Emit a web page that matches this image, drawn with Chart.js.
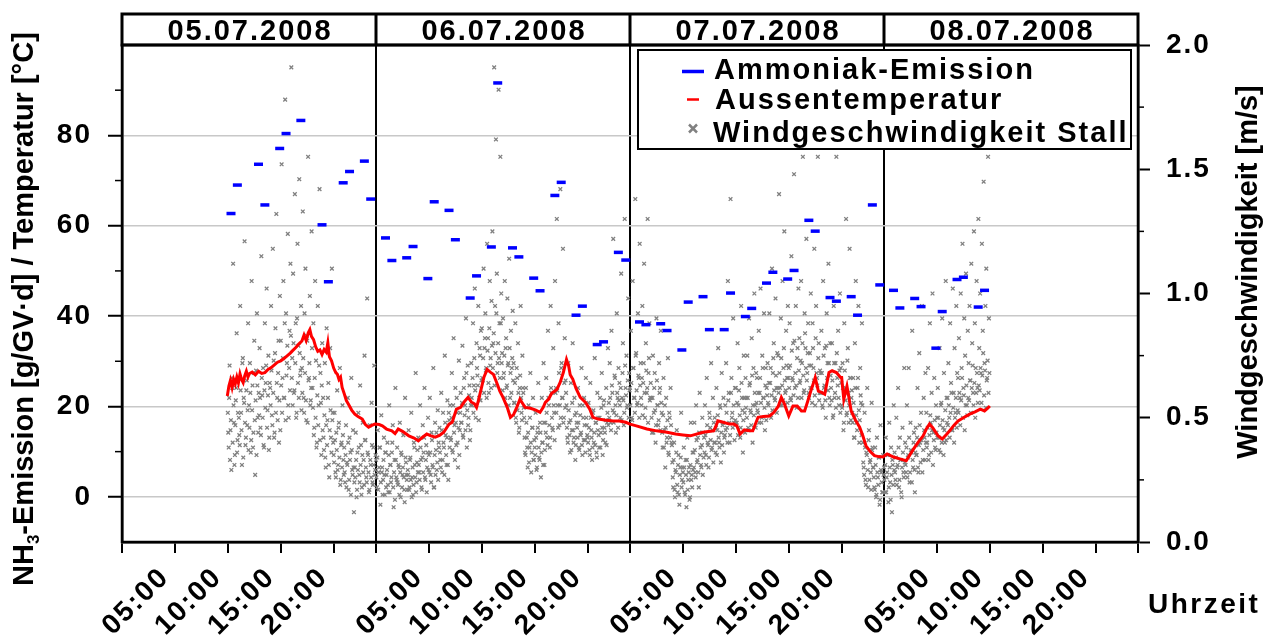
<!DOCTYPE html>
<html><head><meta charset="utf-8">
<script src="https://cdn.jsdelivr.net/npm/chart.js@4.4.1/dist/chart.umd.min.js"></script>
<style>html,body{margin:0;padding:0;background:#fff;}#wrap{width:1274px;height:639px;}</style>
</head><body><div id="wrap"><canvas id="c" width="1274" height="639"></canvas></div>
<script>
// ---------- DATA ----------
const dayLabels = ['05.07.2008','06.07.2008','07.07.2008','08.07.2008'];
const xTickHours = [0,5,10,15,20,24,29,34,39,44,48,53,58,63,68,72,77,82,87,92,96];
const leftTicks = [0,20,40,60,80];
const rightTicks = [0,0.5,1,1.5,2];

// Ammoniak-Emission [g/GV·d] (hours since 05.07.2008 00:00)
const nh3Hours = [10.3,10.9,12.9,13.5,14.9,15.5,16.9,18.9,19.5,20.9,21.5,22.9,23.5,
  24.9,25.5,26.9,27.5,28.9,29.5,30.9,31.5,32.9,33.5,34.9,35.5,36.9,37.5,38.9,39.5,40.9,41.5,42.9,43.5,44.9,45.5,46.9,47.6,
  48.9,49.5,50.9,51.5,52.9,53.5,54.9,55.5,56.9,57.5,58.9,59.5,60.9,61.5,62.9,63.5,64.9,65.5,66.9,67.5,68.9,69.5,70.9,71.6,
  72.9,73.5,74.9,75.5,76.9,77.5,78.9,79.5,80.9,81.5];
const nh3Values = [62.7,69.0,73.6,64.6,77.1,80.4,83.3,60.2,47.6,69.5,72.0,74.3,65.9,
  57.3,52.3,52.9,55.4,48.3,65.3,63.4,56.9,44.0,48.9,55.3,91.6,55.1,53.1,48.4,45.6,66.7,69.6,40.2,42.2,33.7,34.3,54.1,52.4,
  38.7,38.1,38.3,36.8,32.5,43.1,44.3,37.0,37.0,45.1,39.9,41.7,47.3,49.7,48.2,50.1,61.2,58.8,44.1,43.3,44.3,40.2,64.6,46.9,
  45.7,41.8,43.9,42.1,32.9,41.0,48.1,48.6,42.0,45.7];

// Aussentemperatur [°C]
const tempHours = [9.95,10.1,10.25,10.4,10.55,10.7,10.85,11.0,11.15,11.3,11.45,11.6,11.75,11.9,12.05,12.3,12.6,12.9,13.2,13.5,13.8,14.1,14.4,14.7,15.0,15.3,15.6,15.9,16.1,16.4,16.7,17.0,17.2,17.4,17.6,17.75,17.9,18.1,18.3,18.5,18.7,18.9,19.1,19.3,19.45,19.6,19.8,20.0,20.2,20.35,20.5,20.65,20.8,21.0,21.2,21.4,21.7,22.0,22.3,22.7,23.0,23.3,23.6,23.9,
  24.3,24.6,25.0,25.5,25.8,26.1,26.5,27.1,27.6,28.0,28.4,28.8,29.2,29.6,30.0,30.4,30.9,31.2,31.6,32.0,32.4,32.7,33.0,33.3,33.5,33.7,34.0,34.2,34.5,34.8,35.1,35.4,35.7,36.0,36.4,36.7,37.0,37.3,37.6,37.9,38.1,38.6,39.1,39.5,39.8,40.0,40.3,40.6,40.9,41.1,41.4,41.7,42.0,42.2,42.35,42.6,42.9,43.3,43.8,44.2,44.5,45.0,45.6,46.4,47.0,47.6,
  48.0,48.6,49.6,50.5,51.5,52.3,53.0,53.7,54.9,55.9,56.1,56.3,56.8,57.4,57.8,58.1,58.4,58.8,59.3,59.6,60.1,60.6,61.2,61.6,62.0,62.3,62.6,63.0,63.4,63.8,64.2,64.5,64.8,65.1,65.5,65.8,66.1,66.4,66.8,67.1,67.5,67.9,68.0,68.2,68.5,68.9,69.3,69.7,70.0,70.3,70.7,71.1,71.5,71.9,
  72.3,72.9,73.5,74.1,74.5,74.8,75.2,75.7,76.0,76.3,76.6,76.8,77.1,77.5,77.9,78.2,78.6,79.0,79.5,80.1,80.6,81.1,81.5,81.8,82.0];
const tempValues = [22.3,24.5,25.8,24.2,26.0,25.0,26.5,25.2,27.2,26.0,25.3,26.8,27.8,26.5,27.3,27.6,27.0,27.8,27.3,27.5,28.2,28.6,29.2,29.8,30.1,30.6,31.2,31.8,32.3,33.0,33.8,34.5,35.8,34.6,36.3,37.0,35.5,34.8,33.2,32.2,32.5,31.5,32.6,32.0,34.1,31.0,30.1,28.5,27.5,27.1,26.0,26.5,24.2,22.8,21.3,20.5,19.2,18.3,17.8,17.2,16.0,15.4,15.8,16.1,
  16.0,15.7,15.0,14.6,14.0,15.0,14.5,13.5,13.0,12.4,13.2,13.9,13.5,13.2,13.6,14.3,16.1,16.5,19.4,19.8,21.2,22.0,21.0,20.6,19.8,21.5,24.5,26.5,28.2,27.6,27.1,25.3,23.4,22.0,19.8,17.6,18.2,19.8,21.6,20.5,19.8,19.6,19.2,18.7,19.8,20.9,21.6,22.9,23.4,23.8,25.3,27.5,30.4,29.0,27.0,26.0,24.0,22.0,20.9,19.4,17.6,17.2,17.0,16.8,16.8,16.5,
  16.1,15.7,15.0,14.6,14.3,13.9,13.7,13.5,14.3,14.6,15.5,16.8,16.5,16.1,16.1,15.7,13.9,14.8,14.6,14.6,17.6,17.8,17.9,18.7,20.0,22.0,20.5,17.9,20.1,20.1,19.0,19.0,21.2,23.5,26.4,23.4,23.1,22.7,27.5,27.9,27.5,26.4,26.4,21.6,24.5,19.0,17.0,15.4,13.5,11.3,10.0,9.1,8.9,8.8,
  9.5,8.8,8.4,8.0,9.5,10.6,12.0,13.5,15.0,16.1,15.3,14.6,13.5,12.8,13.8,14.6,15.8,16.8,17.5,18.3,18.8,19.4,19.0,19.6,20.1];

// Windgeschwindigkeit Stall [m/s]; two interleaved series, each one reading every 5 minutes
const windStartHours = [10,24,48,72];
const windStepHours = 1/12;
const windDay1 = [
 0.52,0.38,0.71,0.45,0.29,0.62,1.12,0.48,0.35,0.57,0.84,0.41,
 0.66,0.43,0.95,0.52,0.31,0.74,0.58,1.21,0.39,0.61,0.47,0.88,
 0.55,0.72,0.36,1.05,0.63,0.44,0.81,0.27,0.69,0.92,0.50,0.60,
 0.78,0.46,1.15,0.59,0.70,0.38,0.88,0.64,1.02,0.53,0.75,0.42,
 0.62,0.95,0.51,1.18,0.73,0.44,0.86,1.32,0.58,0.68,0.40,0.99,
 0.81,1.52,0.66,1.05,0.58,1.78,0.92,0.72,1.24,0.50,0.85,1.12,
 1.91,0.74,1.08,0.60,1.40,0.88,0.52,1.20,0.79,1.46,0.67,0.95,
 0.70,1.33,0.58,0.92,1.10,0.49,0.81,1.55,0.66,0.99,0.57,1.25,
 0.62,0.88,0.46,1.05,0.73,0.40,0.95,0.55,1.42,0.68,0.35,0.80,
 0.58,0.37,0.72,0.30,0.86,0.49,0.64,0.26,0.78,0.42,1.10,0.52,
 0.35,0.52,0.28,0.44,0.61,0.31,0.48,0.70,0.25,0.40,0.55,0.33,
 0.38,0.24,0.47,0.32,0.58,0.21,0.42,0.36,0.66,0.29,0.45,0.12,
 0.30,0.44,0.18,0.36,0.52,0.27,0.63,0.39,0.22,0.48,0.33,0.75,
 0.41,0.26,0.98,0.35,0.20,0.47,0.31,0.56,0.24,0.38,0.71,0.29];
const windDay1b = [
 0.44,0.58,0.33,0.49,0.66,0.40,0.55,0.31,0.47,0.62,0.36,0.52,
 0.50,0.39,0.61,0.45,0.72,0.34,0.56,0.48,0.42,0.65,0.53,0.37,
 0.46,0.60,0.41,0.53,0.38,0.68,0.49,0.57,0.35,0.63,0.44,0.51,
 0.58,0.43,0.66,0.50,0.39,0.61,0.54,0.71,0.46,0.59,0.37,0.64,
 0.55,0.69,0.47,0.60,0.42,0.76,0.52,0.64,0.49,0.81,0.57,0.45,
 0.63,0.52,0.74,0.58,0.88,0.49,0.67,0.79,0.55,0.70,0.61,0.83,
 0.66,0.55,0.80,0.61,0.72,0.50,0.90,0.64,0.58,0.76,0.69,0.53,
 0.60,0.74,0.52,0.68,0.57,0.83,0.48,0.65,0.72,0.55,0.62,0.78,
 0.54,0.43,0.66,0.50,0.38,0.59,0.47,0.71,0.41,0.56,0.63,0.45,
 0.42,0.51,0.34,0.47,0.39,0.58,0.31,0.45,0.53,0.36,0.49,0.40,
 0.32,0.41,0.26,0.37,0.29,0.46,0.34,0.23,0.39,0.30,0.43,0.27,
 0.28,0.35,0.22,0.31,0.40,0.25,0.33,0.19,0.37,0.27,0.30,0.24,
 0.26,0.33,0.21,0.29,0.38,0.24,0.31,0.19,0.35,0.28,0.23,0.41,
 0.30,0.24,0.36,0.28,0.21,0.33,0.26,0.39,0.23,0.31,0.27,0.35];
const windDay2 = [
 0.33,0.22,0.45,0.28,0.38,0.15,0.51,0.30,0.25,0.42,0.19,0.36,
 0.27,0.40,0.20,0.55,0.31,0.24,0.36,0.47,0.14,0.33,0.62,0.26,
 0.38,0.23,0.30,0.48,0.18,0.35,0.27,0.43,0.21,0.58,0.32,0.25,
 0.29,0.45,0.22,0.34,0.52,0.26,0.19,0.40,0.31,0.68,0.24,0.37,
 0.42,0.28,0.55,0.33,0.21,0.47,0.36,0.62,0.25,0.39,0.30,0.50,
 0.35,0.58,0.27,0.44,0.31,0.70,0.22,0.48,0.37,0.29,0.53,0.40,
 0.46,0.33,0.60,0.28,0.52,0.38,0.75,0.43,0.31,0.57,0.25,0.49,
 0.55,0.41,0.68,0.36,0.82,0.47,0.62,0.39,0.52,0.30,0.73,0.45,
 0.60,0.48,0.79,0.42,0.66,0.55,0.90,0.38,0.71,0.50,0.63,0.45,
 0.72,0.55,0.88,0.63,1.02,0.50,0.80,0.67,0.95,0.58,0.75,0.85,
 0.86,0.65,1.10,0.78,0.92,0.70,1.20,0.82,0.60,1.05,0.74,0.97,
 1.25,0.80,1.91,0.95,1.62,1.08,0.72,1.82,0.88,1.55,1.00,0.76,
 0.90,0.68,1.05,0.78,0.62,0.98,0.72,1.14,0.58,0.85,0.70,0.93,
 0.72,0.56,0.88,0.48,0.66,0.80,0.44,0.62,0.95,0.52,0.75,0.60,
 0.50,0.36,0.62,0.42,0.30,0.55,0.38,0.68,0.28,0.46,0.58,0.33,
 0.38,0.52,0.29,0.44,0.64,0.34,0.48,0.26,0.58,0.40,0.72,0.31,
 0.48,0.66,0.42,0.85,0.55,0.38,0.95,0.60,0.46,0.78,0.52,1.05,
 0.62,1.30,0.55,0.88,0.47,1.42,0.70,0.58,1.18,0.50,0.82,0.65,
 0.55,0.42,0.72,0.48,0.36,0.64,0.45,0.80,0.40,0.58,0.33,0.52,
 0.46,0.62,0.38,0.55,0.43,0.70,0.35,0.50,0.58,0.41,0.66,0.47,
 0.42,0.56,0.37,0.64,0.45,0.33,0.52,0.40,0.74,0.48,0.36,0.60,
 0.50,0.38,0.58,0.44,0.68,0.35,0.55,0.46,0.40,0.62,0.48,0.78,
 0.56,0.72,0.48,0.85,0.60,1.22,0.52,0.66,0.44,0.92,0.58,0.70,
 0.64,0.50,1.08,0.58,0.80,0.47,1.30,0.62,0.75,0.55,0.98,0.68];
const windDay2b = [
 0.26,0.34,0.21,0.30,0.38,0.24,0.28,0.19,0.33,0.27,0.36,0.22,
 0.29,0.23,0.35,0.20,0.31,0.26,0.40,0.22,0.28,0.17,0.33,0.25,
 0.24,0.31,0.19,0.28,0.36,0.22,0.30,0.26,0.16,0.34,0.27,0.21,
 0.27,0.21,0.33,0.25,0.18,0.30,0.23,0.38,0.26,0.20,0.32,0.28,
 0.31,0.25,0.38,0.22,0.34,0.28,0.42,0.26,0.33,0.20,0.36,0.29,
 0.28,0.36,0.24,0.41,0.30,0.22,0.35,0.27,0.44,0.32,0.25,0.38,
 0.36,0.30,0.45,0.33,0.40,0.27,0.48,0.35,0.42,0.31,0.52,0.38,
 0.42,0.50,0.37,0.55,0.44,0.33,0.48,0.58,0.40,0.46,0.35,0.52,
 0.48,0.56,0.43,0.62,0.51,0.45,0.68,0.53,0.47,0.59,0.41,0.55,
 0.58,0.66,0.52,0.74,0.61,0.55,0.70,0.63,0.49,0.78,0.57,0.65,
 0.66,0.74,0.60,0.82,0.69,0.58,0.77,0.64,0.86,0.71,0.62,0.79,
 0.70,0.84,0.63,0.76,0.92,0.68,0.80,0.74,0.66,0.88,0.72,0.61,
 0.66,0.75,0.58,0.82,0.63,0.71,0.55,0.78,0.68,0.60,0.74,0.65,
 0.56,0.64,0.50,0.70,0.53,0.60,0.46,0.67,0.58,0.49,0.62,0.54,
 0.42,0.35,0.48,0.38,0.44,0.32,0.50,0.40,0.36,0.46,0.33,0.41,
 0.35,0.42,0.30,0.46,0.38,0.33,0.44,0.36,0.40,0.31,0.48,0.37,
 0.44,0.52,0.39,0.58,0.47,0.42,0.62,0.50,0.45,0.55,0.41,0.60,
 0.52,0.61,0.46,0.68,0.55,0.50,0.72,0.58,0.48,0.64,0.54,0.60,
 0.46,0.40,0.53,0.43,0.49,0.37,0.56,0.45,0.42,0.51,0.39,0.48,
 0.42,0.48,0.37,0.51,0.44,0.39,0.55,0.41,0.47,0.36,0.50,0.43,
 0.40,0.46,0.35,0.50,0.42,0.38,0.53,0.44,0.39,0.48,0.34,0.45,
 0.43,0.50,0.38,0.54,0.46,0.41,0.57,0.44,0.49,0.39,0.52,0.47,
 0.50,0.58,0.45,0.63,0.53,0.48,0.67,0.55,0.51,0.60,0.46,0.57,
 0.55,0.62,0.49,0.68,0.57,0.52,0.71,0.59,0.54,0.65,0.50,0.61];
const windDay3 = [
 0.62,0.85,0.50,1.05,0.70,0.58,1.38,0.76,0.55,0.92,0.66,1.20,
 0.72,0.55,0.95,0.64,1.12,0.50,0.80,0.60,1.30,0.68,0.88,0.58,
 0.58,0.44,0.75,0.52,0.68,0.40,0.90,0.55,0.47,0.72,0.62,0.85,
 0.52,0.38,0.66,0.45,0.30,0.58,0.42,0.74,0.35,0.50,0.62,0.40,
 0.32,0.22,0.40,0.18,0.28,0.45,0.20,0.35,0.15,0.30,0.52,0.25,
 0.28,0.38,0.20,0.33,0.14,0.42,0.25,0.30,0.18,0.48,0.27,0.36,
 0.36,0.48,0.28,0.55,0.32,0.42,0.22,0.60,0.38,0.30,0.50,0.44,
 0.42,0.55,0.35,0.66,0.40,0.30,0.52,0.46,0.72,0.38,0.58,0.48,
 0.50,0.36,0.62,0.45,0.78,0.40,0.55,0.32,0.68,0.47,0.58,0.42,
 0.55,0.72,0.46,1.05,0.60,0.40,1.38,0.66,0.52,0.90,0.48,0.62,
 0.62,0.48,0.80,0.55,0.70,0.42,0.95,0.58,0.36,0.75,0.52,0.66,
 0.58,0.75,0.46,0.90,0.64,0.52,0.82,0.40,0.70,1.00,0.55,0.68,
 0.66,0.52,0.85,0.60,1.02,0.48,0.75,0.58,0.92,0.45,0.70,0.62,
 0.72,0.55,0.92,0.64,0.50,1.10,0.68,0.80,0.58,0.98,0.62,0.76,
 0.75,1.40,0.62,0.90,0.55,1.05,0.70,1.25,0.60,0.85,0.66,0.95,
 0.70,0.88,0.58,1.15,0.66,0.80,1.48,0.62,0.95,0.54,0.78,1.02,
 0.82,0.65,1.05,0.72,1.55,0.60,0.92,0.78,1.22,0.68,0.88,0.58,
 0.76,1.00,0.62,0.88,0.70,1.18,0.55,0.95,0.66,1.55,0.80,0.60,
 0.68,0.85,0.55,1.05,0.62,0.78,0.50,0.92,0.72,1.12,0.58,0.80,
 0.62,0.80,0.50,0.95,0.58,0.72,1.55,0.66,0.85,0.55,1.00,0.70,
 0.55,0.72,0.45,0.88,0.62,1.30,0.52,0.78,0.48,1.18,0.66,0.58,
 0.52,0.66,0.42,0.80,1.05,0.48,0.62,0.95,0.40,0.70,0.56,0.88,
 0.40,0.30,0.52,0.25,0.36,0.62,0.22,0.45,0.32,0.28,0.56,0.38,
 0.30,0.22,0.38,0.18,0.42,0.26,0.34,0.15,0.47,0.28,0.20,0.35];
const windDay3b = [
 0.55,0.64,0.49,0.70,0.58,0.52,0.75,0.61,0.56,0.67,0.50,0.63,
 0.58,0.66,0.51,0.72,0.60,0.54,0.69,0.62,0.48,0.74,0.57,0.64,
 0.50,0.58,0.44,0.62,0.53,0.47,0.65,0.55,0.49,0.60,0.45,0.56,
 0.44,0.51,0.38,0.55,0.46,0.40,0.49,0.36,0.52,0.42,0.47,0.39,
 0.26,0.33,0.21,0.29,0.36,0.23,0.31,0.19,0.27,0.34,0.22,0.30,
 0.24,0.30,0.19,0.27,0.33,0.21,0.28,0.17,0.31,0.25,0.22,0.29,
 0.30,0.37,0.26,0.41,0.33,0.28,0.44,0.35,0.31,0.39,0.27,0.34,
 0.36,0.43,0.31,0.47,0.39,0.34,0.50,0.41,0.37,0.45,0.32,0.40,
 0.40,0.46,0.35,0.51,0.42,0.38,0.54,0.44,0.39,0.48,0.36,0.43,
 0.45,0.52,0.40,0.57,0.48,0.43,0.60,0.50,0.46,0.55,0.41,0.49,
 0.48,0.56,0.43,0.61,0.51,0.46,0.64,0.53,0.49,0.58,0.44,0.54,
 0.50,0.58,0.45,0.63,0.53,0.47,0.67,0.55,0.51,0.60,0.46,0.56,
 0.53,0.60,0.48,0.66,0.56,0.50,0.70,0.58,0.54,0.63,0.49,0.59,
 0.56,0.64,0.51,0.70,0.59,0.53,0.74,0.61,0.57,0.67,0.52,0.62,
 0.60,0.68,0.55,0.74,0.63,0.57,0.78,0.65,0.61,0.71,0.56,0.66,
 0.62,0.71,0.57,0.77,0.65,0.59,0.81,0.68,0.63,0.74,0.58,0.69,
 0.64,0.73,0.58,0.80,0.67,0.61,0.84,0.70,0.65,0.76,0.60,0.71,
 0.62,0.71,0.56,0.78,0.65,0.59,0.82,0.68,0.63,0.74,0.57,0.69,
 0.60,0.68,0.54,0.75,0.63,0.57,0.79,0.66,0.61,0.72,0.55,0.67,
 0.57,0.65,0.51,0.72,0.60,0.54,0.76,0.63,0.58,0.69,0.52,0.64,
 0.54,0.62,0.48,0.69,0.57,0.51,0.73,0.60,0.55,0.66,0.49,0.61,
 0.48,0.56,0.42,0.62,0.51,0.45,0.66,0.53,0.49,0.59,0.43,0.55,
 0.32,0.27,0.38,0.23,0.35,0.29,0.41,0.25,0.33,0.21,0.37,0.30,
 0.26,0.21,0.31,0.19,0.28,0.23,0.34,0.17,0.29,0.24,0.20,0.27];
const windDay4 = [
 0.30,0.20,0.42,0.26,0.35,0.16,0.48,0.24,0.38,0.12,0.31,0.55,
 0.36,0.25,0.50,0.30,0.62,0.22,0.42,0.33,0.18,0.46,0.28,0.70,
 0.40,0.28,0.55,0.34,0.70,0.24,0.48,0.36,0.85,0.30,0.44,0.20,
 0.46,0.35,0.62,0.28,0.76,0.40,0.52,0.95,0.33,0.58,0.42,0.68,
 0.52,0.40,0.70,0.35,0.88,0.48,0.60,1.00,0.44,0.66,0.38,0.55,
 0.50,0.62,0.42,0.78,0.36,0.56,0.90,0.46,0.68,0.40,1.05,0.58,
 0.58,0.72,0.50,0.88,0.64,0.45,1.02,0.60,0.78,0.52,0.95,0.68,
 0.66,0.82,0.58,1.00,0.70,1.20,0.62,0.90,0.75,1.08,0.55,0.85,
 0.72,0.95,0.65,1.12,0.80,0.60,1.25,0.88,0.70,1.05,0.62,1.30,
 0.78,1.00,0.68,1.20,0.85,1.45,0.72,0.95,1.10,0.66,1.55,0.90];
const windDay4b = [
 0.25,0.31,0.20,0.28,0.35,0.22,0.30,0.17,0.27,0.33,0.23,0.29,
 0.28,0.34,0.23,0.31,0.38,0.25,0.33,0.20,0.30,0.36,0.26,0.32,
 0.31,0.38,0.26,0.35,0.42,0.28,0.37,0.24,0.33,0.40,0.29,0.36,
 0.35,0.42,0.30,0.39,0.47,0.32,0.41,0.28,0.37,0.45,0.33,0.40,
 0.38,0.46,0.33,0.43,0.51,0.36,0.45,0.31,0.41,0.49,0.37,0.44,
 0.42,0.50,0.37,0.47,0.55,0.40,0.49,0.35,0.45,0.53,0.41,0.48,
 0.47,0.55,0.42,0.52,0.60,0.45,0.54,0.40,0.50,0.58,0.46,0.53,
 0.52,0.60,0.47,0.57,0.66,0.50,0.59,0.45,0.55,0.63,0.51,0.58,
 0.57,0.65,0.52,0.62,0.71,0.55,0.64,0.50,0.60,0.68,0.56,0.63,
 0.61,0.70,0.56,0.67,0.76,0.59,0.69,0.54,0.65,0.73,0.60,0.68];
const windSeriesA = [windDay1, windDay2, windDay3, windDay4];
const windSeriesB = [windDay1b, windDay2b, windDay3b, windDay4b];

// ---------- BUILD ----------
const FONT = '"Liberation Sans", Arial, sans-serif';
const nh3Data = nh3Hours.map((h,i)=>({x:h, y:nh3Values[i]}));
const tempData = tempHours.map((h,i)=>({x:h, y:tempValues[i]}));
const windData = [];
windSeriesA.forEach((arr,d)=>arr.forEach((v,i)=>windData.push({x: windStartHours[d] + i*windStepHours, y: v})));
windSeriesB.forEach((arr,d)=>arr.forEach((v,i)=>windData.push({x: windStartHours[d] + (i+0.5)*windStepHours, y: v})));
const dayBounds = [24,48,72];

function seg(ctx,x1,y1,x2,y2){ctx.beginPath();ctx.moveTo(x1,y1);ctx.lineTo(x2,y2);ctx.stroke();}

const decor = {
  id:'decor',
  beforeDraw(chart){ chart.ctx.letterSpacing = '2px'; },
  afterDatasetsDraw(chart){
    const {ctx, chartArea:a, scales} = chart;
    const sx = scales.x, yl = scales.y, yr = scales.y1;
    ctx.save();
    ctx.letterSpacing = '0px';
    ctx.strokeStyle = '#000';
    // minor ticks
    ctx.lineWidth = 1.5;
    [10,30,50,70,90].forEach(v=>{const p=yl.getPixelForValue(v); seg(ctx,a.left-7,p,a.left,p);});
    [0.25,0.75,1.25,1.75].forEach(v=>{const p=yr.getPixelForValue(v); seg(ctx,a.right,p,a.right+6,p);});
    // plot frame
    ctx.lineWidth = 2.5;
    ctx.strokeRect(a.left, a.top, a.right-a.left, a.bottom-a.top);
    // header band with dates
    const hTop = 14;
    ctx.lineWidth = 3;
    ctx.strokeRect(a.left, hTop, a.right-a.left, a.top-hTop);
    dayBounds.forEach(b=>{const p=sx.getPixelForValue(b); seg(ctx,p,hTop,p,a.top);});
    ctx.fillStyle = '#000';
    ctx.font = 'bold 29px ' + FONT;
    ctx.letterSpacing = '2px';
    ctx.textAlign = 'center';
    ctx.textBaseline = 'alphabetic';
    dayLabels.forEach((t,i)=>{
      const c = (sx.getPixelForValue(i*24) + sx.getPixelForValue(i*24+24))/2;
      ctx.fillText(t, c+1, 40);
    });
    // legend
    const lx=638, ly=50, lw=493, lh=99;
    ctx.fillStyle='#fff'; ctx.fillRect(lx,ly,lw,lh);
    ctx.lineWidth=2; ctx.strokeRect(lx,ly,lw,lh);
    ctx.lineWidth=3.5; ctx.strokeStyle='#0000ff'; seg(ctx,682,71.5,704,71.5);
    ctx.lineWidth=2.5; ctx.strokeStyle='#ff0000'; seg(ctx,687,99.5,699,99.5);
    ctx.lineWidth=2.5; ctx.strokeStyle='#808080';
    seg(ctx,689,124.5,697,132.5); seg(ctx,689,132.5,697,124.5);
    ctx.fillStyle='#000'; ctx.textAlign='left';
    ctx.fillText('Ammoniak-Emission', 714, 78.5);
    ctx.fillText('Aussentemperatur', 715, 109);
    ctx.fillText('Windgeschwindigkeit Stall', 713, 141.5);
    // left axis title (rotated)
    ctx.letterSpacing = '0px';
    ctx.save();
    ctx.translate(33, 586);
    ctx.rotate(-Math.PI/2);
    ctx.textAlign='left';
    let px = 0;
    const put = (t, f, dy)=>{ctx.font=f; ctx.fillText(t, px, dy); px += ctx.measureText(t).width;};
    put('NH', 'bold 29px '+FONT, 0);
    put('3', 'bold 17px '+FONT, 6);
    put('-Emission [g/GV·d] / Temperatur [°C]', 'bold 29px '+FONT, 0);
    ctx.restore();
    // right axis title
    ctx.save();
    ctx.translate(1257, 272);
    ctx.rotate(-Math.PI/2);
    ctx.textAlign='center';
    ctx.font='bold 29px '+FONT;
    ctx.fillText('Windgeschwindigkeit [m/s]', 0, 0);
    ctx.restore();
    // x axis title
    ctx.letterSpacing = '2.5px';
    ctx.font='bold 28px '+FONT;
    ctx.textAlign='left';
    ctx.fillText('Uhrzeit', 1148, 613);
    ctx.restore();
  }
};

const tickFont = {family: FONT, size: 28, weight: 'bold'};

new Chart(document.getElementById('c'), {
  type: 'scatter',
  data: {
    datasets: [
      {label:'Ammoniak-Emission', data:nh3Data, yAxisID:'y', showLine:false, pointStyle:'line',
       pointRadius:4.5, pointBorderWidth:3.5, borderColor:'#0000ff', backgroundColor:'#0000ff', order:0},
      {label:'Aussentemperatur', data:tempData, yAxisID:'y', showLine:true, pointRadius:0,
       borderColor:'#ff0000', borderWidth:3, tension:0, order:1},
      {label:'Windgeschwindigkeit Stall', data:windData, yAxisID:'y1', showLine:false, pointStyle:'crossRot',
       pointRadius:2.6, pointBorderWidth:1.3, borderColor:'#808080', backgroundColor:'#808080', order:2}
    ]
  },
  options: {
    responsive:false, animation:false, events:[], devicePixelRatio:1,
    layout:{padding:{top:45, left:0, right:0, bottom:0}},
    plugins:{legend:{display:false}, tooltip:{enabled:false}},
    scales:{
      x:{type:'linear', min:0, max:96, position:'bottom',
         afterBuildTicks:(s)=>{s.ticks = xTickHours.map(v=>({value:v}));},
         afterFit:(s)=>{s.height = 97;},
         ticks:{autoSkip:false, maxRotation:45, minRotation:45, color:'#000', font:tickFont, padding:8, labelOffset:-10,
           callback:(v)=>{const h=v%24; return h===0 ? '' : String(h).padStart(2,'0')+':00';}},
         grid:{drawOnChartArea:true, tickLength:11, tickColor:'#000', tickWidth:2,
           color:(c)=> (c.tick && dayBounds.includes(c.tick.value)) ? '#000' : 'rgba(0,0,0,0)',
           lineWidth:2},
         border:{display:true, color:'#000', width:2.5}},
      y:{type:'linear', position:'left', min:-10, max:100,
         afterBuildTicks:(s)=>{s.ticks = leftTicks.map(v=>({value:v}));},
         afterFit:(s)=>{s.width = 122;},
         ticks:{color:'#000', font:tickFont, padding:16, callback:(v)=>String(v)},
         grid:{color:'#c8c8c8', lineWidth:1.5, tickLength:14, tickColor:'#000', tickWidth:2},
         border:{display:true, color:'#000', width:2.5}},
      y1:{type:'linear', position:'right', min:0, max:2,
         afterBuildTicks:(s)=>{s.ticks = rightTicks.map(v=>({value:v}));},
         afterFit:(s)=>{s.width = 136;},
         ticks:{color:'#000', font:tickFont, padding:16, callback:(v)=>Number(v).toFixed(1)},
         grid:{drawOnChartArea:false, tickLength:12, tickColor:'#000', tickWidth:2},
         border:{display:true, color:'#000', width:2.5}}
    }
  },
  plugins:[decor]
});
</script></body></html>
